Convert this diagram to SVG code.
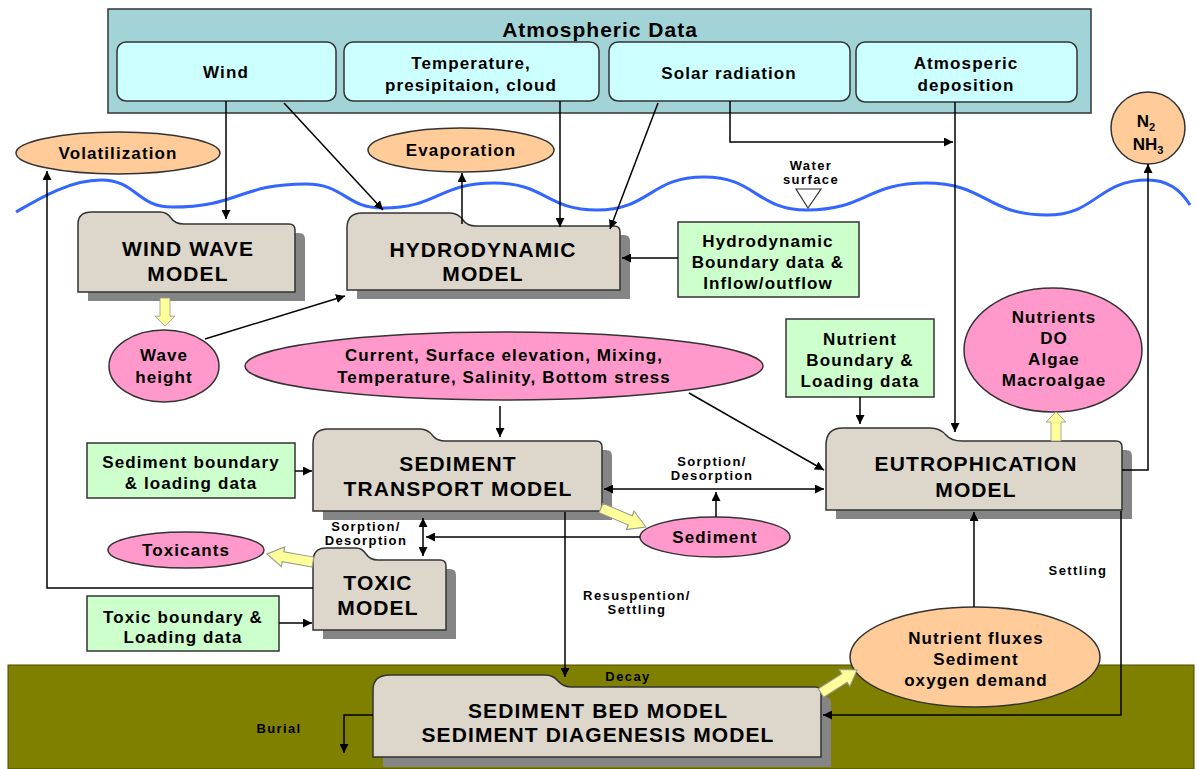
<svg xmlns="http://www.w3.org/2000/svg" width="1197" height="769" viewBox="0 0 1197 769">
<style>
.t{font-family:"Liberation Sans",Arial,sans-serif;font-weight:bold;text-anchor:middle;fill:#000}
.m{font-size:17px;letter-spacing:1.1px}
.s{font-size:13px;letter-spacing:1.4px}
.big{font-size:21px;letter-spacing:1px}
.mdl{font-size:21px;letter-spacing:1.1px}
.ln{stroke:#000;stroke-width:1.5;fill:none}
.model{fill:#dcd6cb;stroke:#333;stroke-width:1.5}
.shadow{fill:#858585}
.green{fill:#ccffcc;stroke:#333;stroke-width:1.5}
.pink{fill:#ff99cc;stroke:#333;stroke-width:1.5}
.orange{fill:#ffcc99;stroke:#333;stroke-width:1.5}
.sub{fill:#ccffff;stroke:#333;stroke-width:1.5}
.fat{fill:#ffff99;stroke:#999;stroke-width:1}
</style>
<defs>
<marker id="ah" viewBox="0 0 10 10" refX="10" refY="5" markerWidth="9" markerHeight="9" markerUnits="userSpaceOnUse" orient="auto-start-reverse">
<path d="M0,0 L10,5 L0,10 Z" fill="#000"/>
</marker>
<path id="fatarrow" d="M0,-5 L26,-5 L26,-10 L40,0 L26,10 L26,5 L0,5 Z"/>
</defs>

<!-- ground -->
<rect x="8" y="665" width="1186" height="104" fill="#808000" stroke="#4a4a00" stroke-width="1"/>

<!-- water surface -->
<path d="M16,212 C40,198 70,180 101,180 C136,180 137,207 172,207 C239,207 239,184 306,184 C345,184 345,208 383,208 C438,208 438,183 494,183 C546,183 546,210 597,210 C650,210 650,177 704,177 C756,177 756,210 807,210 C866,210 866,183 926,183 C986,183 986,215 1047,215 C1097,215 1097,180 1148,180 C1170,180 1182,192 1190,205" fill="none" stroke="#3366ff" stroke-width="3"/>

<!-- Atmospheric data -->
<g id="atmospheric-data">
<rect x="108" y="9" width="983" height="104" fill="#a2d3d6" stroke="#333" stroke-width="1.5"/>
<text class="t big" x="600" y="37">Atmospheric Data</text>
</g>
<g id="wind"><rect class="sub" x="117" y="42" width="219" height="59" rx="9"/><text class="t m" x="226" y="78">Wind</text></g>
<g id="temperature"><rect class="sub" x="344" y="42" width="255" height="59" rx="9"/><text class="t m" x="471" y="69">Temperature,</text><text class="t m" x="471" y="91">presipitaion, cloud</text></g>
<g id="solar"><rect class="sub" x="609" y="42" width="241" height="59" rx="9"/><text class="t m" x="729" y="79">Solar radiation</text></g>
<g id="deposition"><rect class="sub" x="856" y="42" width="221" height="60" rx="9"/><text class="t m" x="966" y="69">Atmosperic</text><text class="t m" x="966" y="91">deposition</text></g>

<g id="volatilization"><ellipse class="orange" cx="118" cy="153" rx="102" ry="21"/><text class="t m" x="118" y="159">Volatilization</text></g>
<g id="evaporation"><ellipse class="orange" cx="461" cy="150" rx="93" ry="22"/><text class="t m" x="461" y="156">Evaporation</text></g>
<g id="water-surface"><text class="t s" x="811" y="170">Water</text><text class="t s" x="811" y="184">surface</text><path d="M796,189 L821,189 L808,208 Z" fill="#fff" stroke="#333" stroke-width="1.2"/></g>
<g id="n2nh3"><ellipse class="orange" cx="1148" cy="128" rx="37" ry="36"/>
<text class="t" x="1146" y="127" style="font-size:17px">N<tspan dy="4" style="font-size:11px">2</tspan></text>
<text class="t" x="1148" y="150" style="font-size:17px">NH<tspan dy="4" style="font-size:11px">3</tspan></text></g>

<!-- models and nodes -->
<g id="wind-wave-model">
<path class="shadow" transform="translate(10,9)" d="M78,292 V224 Q78,212 92,212 H160 Q167,212 171,218 Q175,224 184,224 H289 Q295,224 295,230 V292 Z"/>
<path class="model" d="M78,292 V224 Q78,212 92,212 H160 Q167,212 171,218 Q175,224 184,224 H289 Q295,224 295,230 V292 Z"/>
<text class="t mdl" x="188" y="256">WIND WAVE</text><text class="t mdl" x="188" y="281">MODEL</text>
</g>
<g id="hydrodynamic-model">
<path class="shadow" transform="translate(10,9)" d="M347,290 V228 Q347,213 362,213 H450 Q458,213 463,220 Q467,226 476,226 H614 Q620,226 620,232 V290 Z"/>
<path class="model" d="M347,290 V228 Q347,213 362,213 H450 Q458,213 463,220 Q467,226 476,226 H614 Q620,226 620,232 V290 Z"/>
<text class="t mdl" x="483" y="257">HYDRODYNAMIC</text><text class="t mdl" x="483" y="281">MODEL</text>
</g>
<g id="hydro-boundary"><rect class="green" x="678" y="222" width="181" height="75"/>
<text class="t m" x="768" y="247">Hydrodynamic</text><text class="t m" x="768" y="268">Boundary data &amp;</text><text class="t m" x="768" y="289">Inflow/outflow</text></g>

<g id="wave-height"><ellipse class="pink" cx="164" cy="366" rx="55" ry="36"/><text class="t m" x="164" y="361">Wave</text><text class="t m" x="164" y="383">height</text></g>
<g id="current"><ellipse class="pink" cx="504" cy="366" rx="259" ry="34"/><text class="t m" x="504" y="361">Current, Surface elevation, Mixing,</text><text class="t m" x="504" y="383">Temperature, Salinity, Bottom stress</text></g>
<g id="nutrient-boundary"><rect class="green" x="786" y="319" width="148" height="78"/>
<text class="t m" x="860" y="345">Nutrient</text><text class="t m" x="860" y="366">Boundary &amp;</text><text class="t m" x="860" y="387">Loading data</text></g>
<g id="nutrients"><ellipse class="pink" cx="1053" cy="350" rx="89" ry="62"/>
<text class="t m" x="1054" y="323">Nutrients</text><text class="t m" x="1054" y="344">DO</text><text class="t m" x="1054" y="365">Algae</text><text class="t m" x="1054" y="386">Macroalgae</text></g>

<g id="sediment-boundary"><rect class="green" x="87" y="443" width="208" height="55"/>
<text class="t m" x="191" y="468">Sediment boundary</text><text class="t m" x="191" y="489">&amp; loading data</text></g>
<g id="sediment-transport-model">
<path class="shadow" transform="translate(10,9)" d="M313,511 V444 Q313,429 328,429 H420 Q428,429 433,436 Q437,441 446,441 H596 Q602,441 602,447 V511 Z"/>
<path class="model" d="M313,511 V444 Q313,429 328,429 H420 Q428,429 433,436 Q437,441 446,441 H596 Q602,441 602,447 V511 Z"/>
<text class="t mdl" x="458" y="471">SEDIMENT</text><text class="t mdl" x="458" y="496">TRANSPORT MODEL</text>
</g>
<g id="eutrophication-model">
<path class="shadow" transform="translate(10,9)" d="M826,510 V445 Q826,428 843,428 H930 Q940,428 946,435 Q951,441 962,441 H1116 Q1122,441 1122,447 V510 Z"/>
<path class="model" d="M826,510 V445 Q826,428 843,428 H930 Q940,428 946,435 Q951,441 962,441 H1116 Q1122,441 1122,447 V510 Z"/>
<text class="t mdl" x="976" y="471">EUTROPHICATION</text><text class="t mdl" x="976" y="497">MODEL</text>
</g>
<g id="sorption-label-1"><text class="t s" x="712" y="466">Sorption/</text><text class="t s" x="712" y="480">Desorption</text></g>
<g id="sediment"><ellipse class="pink" cx="715" cy="537" rx="75" ry="20"/><text class="t m" x="715" y="543">Sediment</text></g>
<g id="sorption-label-2"><text class="t s" x="366" y="531">Sorption/</text><text class="t s" x="366" y="545">Desorption</text></g>
<g id="toxicants"><ellipse class="pink" cx="186" cy="550" rx="78" ry="18"/><text class="t m" x="186" y="556">Toxicants</text></g>
<g id="toxic-model">
<path class="shadow" transform="translate(10,9)" d="M313,630 V562 Q313,548 326,548 H356 Q362,548 366,554 Q370,560 378,560 H440 Q446,560 446,566 V630 Z"/>
<path class="model" d="M313,630 V562 Q313,548 326,548 H356 Q362,548 366,554 Q370,560 378,560 H440 Q446,560 446,566 V630 Z"/>
<text class="t mdl" x="378" y="590">TOXIC</text><text class="t mdl" x="378" y="615">MODEL</text>
</g>
<g id="toxic-boundary"><rect class="green" x="87" y="596" width="192" height="55"/>
<text class="t m" x="183" y="623">Toxic boundary &amp;</text><text class="t m" x="183" y="643">Loading data</text></g>
<g id="resuspension-label"><text class="t s" x="637" y="600">Resuspention/</text><text class="t s" x="637" y="614">Settling</text></g>
<g id="settling-label"><text class="t s" x="1078" y="575">Settling</text></g>
<g id="nutrient-fluxes"><ellipse class="orange" cx="975" cy="657" rx="125" ry="50"/>
<text class="t m" x="976" y="644">Nutrient fluxes</text><text class="t m" x="976" y="665">Sediment</text><text class="t m" x="976" y="686">oxygen demand</text></g>
<g id="sediment-bed-model">
<path class="shadow" transform="translate(10,10)" d="M373,757 V690 Q373,675 390,675 H545 Q553,675 558,681 Q563,687 572,687 H815 Q821,687 821,693 V757 Z"/>
<path class="model" d="M373,757 V690 Q373,675 390,675 H545 Q553,675 558,681 Q563,687 572,687 H815 Q821,687 821,693 V757 Z"/>
<text class="t mdl" x="598" y="718">SEDIMENT BED MODEL</text><text class="t mdl" x="598" y="742">SEDIMENT DIAGENESIS MODEL</text>
</g>
<g id="decay-label"><text class="t s" x="628" y="681">Decay</text></g>
<g id="burial-label"><text class="t s" x="279" y="733">Burial</text></g>

<!-- connectors -->
<g id="connectors">
<path class="ln" d="M226,101 V219" marker-end="url(#ah)"/>
<path class="ln" d="M284,103 L383,210" marker-end="url(#ah)"/>
<path class="ln" d="M560,101 V227" marker-end="url(#ah)"/>
<path class="ln" d="M658,103 L610,229" marker-end="url(#ah)"/>
<path class="ln" d="M730,101 V142 H953" marker-end="url(#ah)"/>
<path class="ln" d="M955,102 V432" marker-end="url(#ah)"/>
<path class="ln" d="M462,224 V173" marker-end="url(#ah)"/>
<path class="ln" d="M313,588 H47 V171" marker-end="url(#ah)"/>
<path class="ln" d="M678,258 H622" marker-end="url(#ah)"/>
<path class="ln" d="M205,339 L345,296" marker-end="url(#ah)"/>
<path class="ln" d="M500,406 V437" marker-end="url(#ah)"/>
<path class="ln" d="M295,471 H312" marker-end="url(#ah)"/>
<path class="ln" d="M860,397 V424" marker-end="url(#ah)"/>
<path class="ln" d="M689,393 L824,470" marker-end="url(#ah)"/>
<path class="ln" d="M604,489 H824" marker-start="url(#ah)" marker-end="url(#ah)"/>
<path class="ln" d="M716,517 V492" marker-end="url(#ah)"/>
<path class="ln" d="M640,537 H426" marker-end="url(#ah)"/>
<path class="ln" d="M423,518 V556" marker-start="url(#ah)" marker-end="url(#ah)"/>
<path class="ln" d="M565,512 V677" marker-end="url(#ah)"/>
<path class="ln" d="M279,623 H312" marker-end="url(#ah)"/>
<path class="ln" d="M1122,470 H1148 V164" marker-end="url(#ah)"/>
<path class="ln" d="M974,607 V512" marker-end="url(#ah)"/>
<path class="ln" d="M1121,511 V715 H823" marker-end="url(#ah)"/>
<path class="ln" d="M373,715 H344 V753" marker-end="url(#ah)"/>
<use href="#fatarrow" class="fat" transform="translate(165,298) rotate(90) scale(0.7,1)"/>
<use href="#fatarrow" class="fat" transform="translate(601,508) rotate(22.9) scale(1.22,1)"/>
<use href="#fatarrow" class="fat" transform="translate(313,562) rotate(189.9) scale(1.17,1)"/>
<use href="#fatarrow" class="fat" transform="translate(1056,441) rotate(-90) scale(0.73,1)"/>
<use href="#fatarrow" class="fat" transform="translate(821,693) rotate(-32.6) scale(1.07,1)"/>
</g>
</svg>
